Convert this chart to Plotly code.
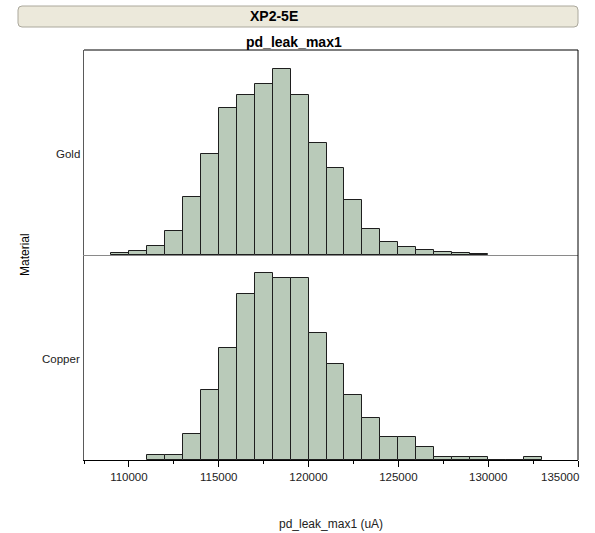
import plotly.graph_objects as go

# Histogram counts per 1000 uA bin for pd_leak_max1, split by material
materials = ["Gold", "Copper"]
bin_width = 1000
gold_bin_start = 109000
gold_counts = [2, 5, 11, 28, 68, 119, 173, 188, 201, 218, 188, 131, 102, 64, 31, 15, 9, 6, 3, 2, 1]
copper_bin_start = 111000
copper_counts = [2, 2, 10, 27, 43, 64, 72, 70, 70, 49, 37, 25, 16, 9, 9, 5, 1, 1, 1, 0, 0, 1]

x_tick_vals = [110000, 115000, 120000, 125000, 130000, 135000]
x_tick_text = ["110000", "115000", "120000", "125000", "130000", "135000"]

W, H = 595, 533
L, R, T, B = 84, 17, 50, 73
FONT = "Liberation Sans, Arial, sans-serif"
BAR_FILL = "#B9CAB9"
BAR_EDGE = "#1e1e1e"
TICK_COLOR = "#222222"


def centers(start, counts):
    return [start + bin_width * (i + 0.5) for i in range(len(counts))]


def px(x):
    return (x - L) / (W - L - R)


def py(y):
    return (H - B - y) / (H - T - B)


fig = go.Figure()
fig.add_trace(go.Bar(
    x=centers(gold_bin_start, gold_counts), y=gold_counts, width=bin_width,
    marker=dict(color=BAR_FILL, line=dict(color=BAR_EDGE, width=1)),
    xaxis="x2", yaxis="y2", name=materials[0], showlegend=False,
))
fig.add_trace(go.Bar(
    x=centers(copper_bin_start, copper_counts), y=copper_counts, width=bin_width,
    marker=dict(color=BAR_FILL, line=dict(color=BAR_EDGE, width=1)),
    xaxis="x", yaxis="y", name=materials[1], showlegend=False,
))

x_range = [107500, 135000]

# The last tick label sits flush with the right edge of the frame, so it is
# written separately (right-aligned) instead of centred on its tick.
axis_tick_text = x_tick_text[:-1] + [""]

fig.update_layout(
    width=W, height=H,
    margin=dict(l=L, r=R, t=T, b=B, pad=0, autoexpand=False),
    paper_bgcolor="white", plot_bgcolor="white",
    font=dict(family=FONT, size=11.5, color=TICK_COLOR),
    bargap=0,
    xaxis=dict(
        range=x_range, anchor="y", domain=[0, 1],
        tickvals=x_tick_vals, ticktext=axis_tick_text,
        ticks="outside", ticklen=6, tickwidth=1, tickcolor="#000000",
        minor=dict(dtick=2500, ticks="outside", ticklen=3, tickcolor="#000000", tickwidth=1),
        showline=True, linecolor="#000000", linewidth=1,
        showgrid=False, zeroline=False,
        automargin=False,
        tickfont=dict(size=11.5, color=TICK_COLOR),
    ),
    xaxis2=dict(
        range=x_range, anchor="y2", matches="x", domain=[0, 1],
        showticklabels=False, ticks="",
        showline=True, linecolor="#8a8a8a", linewidth=1,
        showgrid=False, zeroline=False,
    ),
    yaxis=dict(
        domain=[0, 0.5], range=[0, 79], anchor="x",
        showticklabels=False, ticks="", showgrid=False, zeroline=False,
        showline=True, linecolor="#5a5a5a", linewidth=1,
    ),
    yaxis2=dict(
        domain=[0.5, 1], range=[0, 240.6], anchor="x2",
        showticklabels=False, ticks="", showgrid=False, zeroline=False,
        showline=True, linecolor="#5a5a5a", linewidth=1,
    ),
)

# Frame: top and right borders
fig.add_shape(type="line", xref="paper", yref="paper", x0=0, x1=1, y0=1, y1=1,
              line=dict(color="#000000", width=1))
fig.add_shape(type="line", xref="paper", yref="paper", x0=1, x1=1, y0=0, y1=1,
              line=dict(color="#000000", width=1))

# Rounded header bar
bx0, bx1, by0, by1, r = 18, 578, 6, 27, 4
path = (
    f"M {px(bx0 + r)} {py(by0)} L {px(bx1 - r)} {py(by0)} "
    f"Q {px(bx1)} {py(by0)} {px(bx1)} {py(by0 + r)} "
    f"L {px(bx1)} {py(by1 - r)} "
    f"Q {px(bx1)} {py(by1)} {px(bx1 - r)} {py(by1)} "
    f"L {px(bx0 + r)} {py(by1)} "
    f"Q {px(bx0)} {py(by1)} {px(bx0)} {py(by1 - r)} "
    f"L {px(bx0)} {py(by0 + r)} "
    f"Q {px(bx0)} {py(by0)} {px(bx0 + r)} {py(by0)} Z"
)
fig.add_shape(type="path", xref="paper", yref="paper", path=path,
              fillcolor="#ECE9DB", line=dict(color="#ABA89C", width=1), layer="below")

annotations = [
    dict(text="<b>XP2-5E</b>", x=px(274), y=py(16.5), font=dict(size=14, color="#000000")),
    dict(text="<b>pd_leak_max1</b>", x=px(294), y=py(42), font=dict(size=14, color="#000000")),
    dict(text="Material", x=px(25), y=py(255), textangle=-90, font=dict(size=12, color="#000000")),
    dict(text="pd_leak_max1 (uA)", x=px(331), y=py(524), font=dict(size=12, color=TICK_COLOR)),
    dict(text=materials[0], x=px(82), y=py(154), xanchor="right", font=dict(size=11.5, color=TICK_COLOR)),
    dict(text=materials[1], x=px(82), y=py(359), xanchor="right", font=dict(size=11.5, color=TICK_COLOR)),
    dict(text=x_tick_text[-1], x=px(581), y=py(476.5), xanchor="right", font=dict(size=11.5, color=TICK_COLOR)),
]
for a in annotations:
    a.setdefault("xanchor", "center")
    fig.add_annotation(xref="paper", yref="paper", yanchor="middle", showarrow=False, **a)

fig.write_html("out.html")
